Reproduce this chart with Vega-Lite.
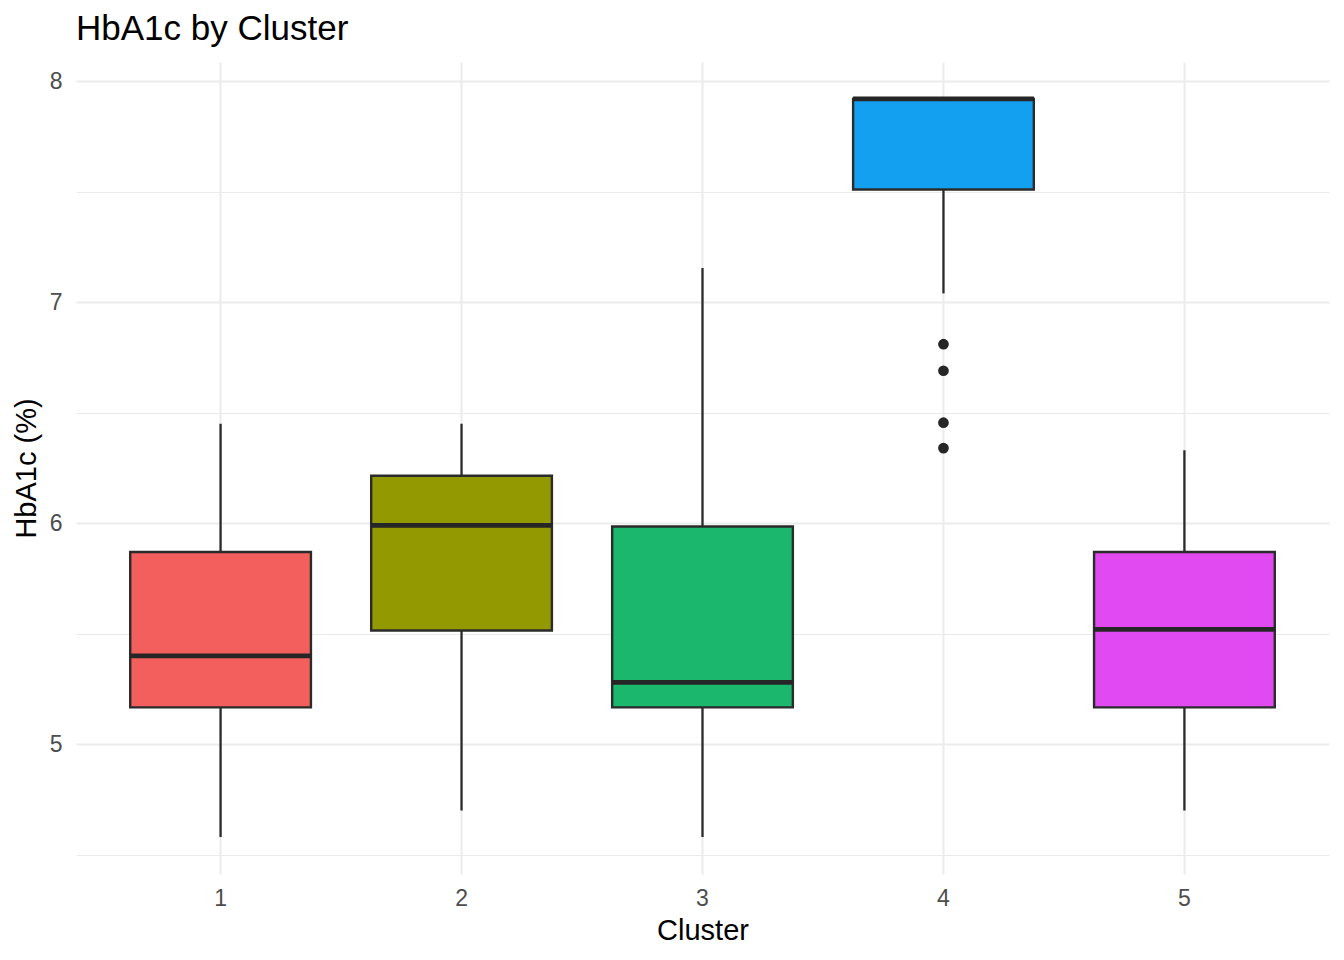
{
  "$schema": "https://vega.github.io/schema/vega-lite/v6.json",
  "width": 1253,
  "height": 812,
  "autosize": "none",
  "padding": {"left": 76, "top": 62, "right": 15, "bottom": 86},
  "background": "white",
  "title": {"text": "HbA1c by Cluster", "anchor": "start", "frame": "group", "font": "Liberation Sans", "fontSize": 35, "fontWeight": "normal", "color": "#000000", "offset": 15},
  "config": {
    "view": {"stroke": null},
    "axis": {"labelFont": "Liberation Sans", "titleFont": "Liberation Sans", "labelColor": "#4D4D4D", "titleColor": "#000000", "titleFontWeight": "normal", "labelFontSize": 23, "titleFontSize": 29, "domain": false, "ticks": false, "gridColor": "#EBEBEB"}
  },
  "datasets": {
    "boxes": [
      {"cluster": "1", "lower": 4.58, "q1": 5.167, "median": 5.40, "q3": 5.87, "upper": 6.45},
      {"cluster": "2", "lower": 4.70, "q1": 5.515, "median": 5.99, "q3": 6.215, "upper": 6.45},
      {"cluster": "3", "lower": 4.58, "q1": 5.167, "median": 5.28, "q3": 5.985, "upper": 7.155},
      {"cluster": "4", "lower": 7.04, "q1": 7.51, "median": 7.92, "q3": 7.92, "upper": 7.92},
      {"cluster": "5", "lower": 4.70, "q1": 5.167, "median": 5.52, "q3": 5.87, "upper": 6.33}
    ],
    "outliers": [
      {"cluster": "4", "value": 6.81},
      {"cluster": "4", "value": 6.69},
      {"cluster": "4", "value": 6.455},
      {"cluster": "4", "value": 6.34}
    ]
  },
  "encoding": {
    "x": {"field": "cluster", "type": "nominal", "title": "Cluster",
      "scale": {"type": "band", "domain": ["1", "2", "3", "4", "5"], "paddingInner": 0, "paddingOuter": 0.1},
      "axis": {"labelAngle": 0, "grid": true, "gridWidth": 2, "bandPosition": 0.5, "labelPadding": 13, "titlePadding": 6}}
  },
  "layer": [
    {
      "data": {"name": "boxes"},
      "mark": {"type": "rule", "color": "#2B2B2B", "strokeWidth": 2.3},
      "encoding": {
        "y": {"field": "lower", "type": "quantitative", "title": "HbA1c (%)",
          "scale": {"domain": [4.413, 8.087], "nice": false, "zero": false},
          "axis": {"values": [4.5, 5, 5.5, 6, 6.5, 7, 7.5, 8], "grid": true,
            "gridWidth": {"condition": {"test": "datum.value % 1 === 0", "value": 2}, "value": 1},
            "labelExpr": "datum.value % 1 === 0 ? format(datum.value, 'd') : ''",
            "labelPadding": 14, "titlePadding": 8}},
        "y2": {"field": "upper"}
      }
    },
    {
      "data": {"name": "boxes"},
      "mark": {"type": "bar", "stroke": "#2B2B2B", "strokeWidth": 2.4, "width": {"band": 0.75}},
      "encoding": {
        "y": {"field": "q1", "type": "quantitative"},
        "y2": {"field": "q3"},
        "fill": {"field": "cluster", "type": "nominal", "legend": null,
          "scale": {"domain": ["1", "2", "3", "4", "5"], "range": ["#F25F5C", "#939900", "#1AB76C", "#14A0F0", "#E04AF0"]}}
      }
    },
    {
      "data": {"name": "boxes"},
      "mark": {"type": "tick", "color": "#262626", "thickness": 4.8, "size": 181, "opacity": 1},
      "encoding": {
        "y": {"field": "median", "type": "quantitative"}
      }
    },
    {
      "data": {"name": "outliers"},
      "mark": {"type": "circle", "color": "#262626", "size": 115, "opacity": 1},
      "encoding": {
        "y": {"field": "value", "type": "quantitative"}
      }
    }
  ]
}
